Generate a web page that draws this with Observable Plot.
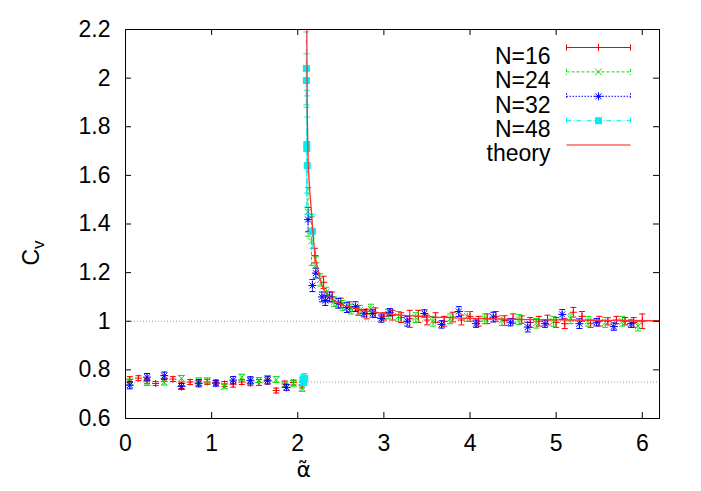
<!DOCTYPE html>
<html><head><meta charset="utf-8">
<script src="https://cdn.jsdelivr.net/npm/d3@7"></script>
<script src="https://cdn.jsdelivr.net/npm/@observablehq/plot@0.6"></script>
<style>body{margin:0;background:#fff}#chart svg{display:block}</style>
</head><body><div id="chart"></div>
<script>
const xTicks = [0, 1, 2, 3, 4, 5, 6];
const yTicks = [0.6, 0.8, 1.0, 1.2, 1.4, 1.6, 1.8, 2.0, 2.2];
const refLines = [0.75, 1.0];
const seriesNames = ["N=16", "N=24", "N=32", "N=48", "theory"];
const seriesColors = ["#ff0000", "#00dd00", "#0000ff", "#00eeee", "#ff3030"];

// N=16
const a16 = [0.05,0.15,0.25,0.35,0.45,0.55,0.65,0.75,0.85,0.95,1.05,1.15,1.25,1.35,1.45,1.55,1.65,1.75,1.85,1.95,2.05,
  2.2,2.3,2.4,2.5,2.6,2.7,2.8,2.9,3.0,3.1,3.2,3.3,3.4,3.5,3.6,3.7,3.8,3.9,4.0,4.1,4.2,4.3,4.4,4.5,4.6,4.7,4.8,4.9,5.0,5.1,5.2,5.3,5.4,5.5,5.6,5.7,5.8,5.9,6.0];
const v16 = [0.760,0.766,0.755,0.744,0.765,0.762,0.735,0.750,0.745,0.750,0.748,0.742,0.741,0.750,0.745,0.748,0.752,0.715,0.742,0.748,0.738,
  1.27,1.16,1.10,1.075,1.06,1.045,1.03,1.035,1.02,1.025,1.015,1.01,1.02,1.005,1.015,1.0,1.017,1.005,1.02,1.0,1.01,1.02,1.003,1.01,1.007,0.995,1.0,1.005,0.995,0.99,1.037,1.02,0.99,1.0,1.0,1.005,1.0,0.995,1.0];
const e16 = [0.012,0.01,0.01,0.008,0.012,0.01,0.012,0.01,0.01,0.01,0.01,0.01,0.012,0.01,0.01,0.012,0.01,0.01,0.012,0.01,0.012,
  0.03,0.025,0.02,0.02,0.02,0.02,0.02,0.02,0.015,0.02,0.02,0.035,0.025,0.02,0.02,0.02,0.02,0.02,0.02,0.02,0.02,0.02,0.02,0.02,0.015,0.02,0.02,0.02,0.02,0.02,0.02,0.02,0.015,0.02,0.015,0.015,0.015,0.02,0.03];

// N=24
const a24 = [0.05,0.25,0.45,0.65,0.85,0.95,1.15,1.35,1.45,1.55,1.65,1.75,1.85,1.95,2.05,
  2.12,2.16,2.21,2.26,2.33,2.42,2.52,2.62,2.72,2.85,3.05,3.17,3.37,3.57,3.77,3.97,4.17,4.37,4.57,4.77,4.97,5.17,5.37,5.57,5.77,5.95];
const v24 = [0.750,0.748,0.750,0.765,0.755,0.755,0.732,0.770,0.755,0.758,0.765,0.760,0.740,0.745,0.724,
  1.45,1.33,1.23,1.17,1.12,1.08,1.065,1.05,1.045,1.05,1.03,1.02,1.015,1.0,1.01,1.02,1.01,1.003,1.007,0.992,1.0,1.01,1.0,0.995,1.0,0.98];
const e24 = [0.012,0.012,0.012,0.012,0.012,0.012,0.01,0.012,0.012,0.01,0.012,0.012,0.012,0.012,0.012,
  0.1,0.1,0.035,0.025,0.02,0.02,0.02,0.02,0.02,0.02,0.02,0.02,0.02,0.02,0.02,0.02,0.02,0.02,0.02,0.02,0.02,0.02,0.02,0.02,0.02,0.02];

// N=32
const a32 = [0.05,0.25,0.45,0.65,0.85,1.05,1.25,1.45,1.65,1.87,
  2.12,2.17,2.21,2.28,2.32,2.37,2.47,2.57,2.67,2.77,2.87,2.97,3.07,3.27,3.47,3.67,3.87,4.07,4.27,4.47,4.67,4.87,5.07,5.27,5.47,5.67,5.87];
const v32 = [0.737,0.770,0.776,0.732,0.745,0.745,0.758,0.757,0.757,0.728,
  1.418,1.147,1.198,1.10,1.085,1.10,1.074,1.056,1.06,1.033,1.032,1.011,1.037,1.0,1.032,0.987,1.04,0.99,1.017,0.996,0.976,0.99,1.028,0.99,0.996,0.978,0.99];
const e32 = [0.015,0.015,0.015,0.012,0.015,0.012,0.015,0.015,0.015,0.012,
  0.05,0.025,0.02,0.02,0.02,0.02,0.02,0.02,0.02,0.015,0.015,0.015,0.015,0.02,0.015,0.015,0.02,0.015,0.02,0.015,0.02,0.015,0.02,0.02,0.015,0.015,0.015];

// N=48
const a48 = [2.06,2.07,2.08,2.1,2.1,2.105,2.105,2.11,2.17];
const v48 = [0.760,0.750,0.765,2.04,1.99,1.727,1.71,1.64,1.37];
const e48 = [0.02,0.015,0.02,0.15,0.11,0.2,0.24,0.2,0.07];

// theory
const thA = [2.105,2.11,2.12,2.135,2.15,2.165,2.195,2.235,2.29,2.37,2.49,2.64,2.9,3.2,3.6,4.0,4.5,5.0,5.5,6.2];
const thV = [2.2,1.90,1.68,1.56,1.49,1.42,1.29,1.21,1.14,1.10,1.072,1.055,1.037,1.025,1.017,1.012,1.008,1.006,1.004,1.002];

const W = 701, H = 491, mL = 125, mR = 42, mT = 29, mB = 73;
const fW = W - mL - mR, fH = H - mT - mB;
const FS = 23;

const mk = (a, v, e) => a.map((x, i) => ({x, y: v[i], lo: v[i] - e[i], hi: v[i] + e[i]}));
const theory = thA.map((x, i) => ({x, y: thV[i]}));

const sym = fn => ({draw(c) { fn(c); }});
const capSym = sym(c => { c.moveTo(-3, 0); c.lineTo(3, 0); });
const plusSym = sym(c => { c.moveTo(-3.5, 0); c.lineTo(3.5, 0); c.moveTo(0, -3.5); c.lineTo(0, 3.5); });
const timesSym = sym(c => { c.moveTo(-3.2, -3.2); c.lineTo(3.2, 3.2); c.moveTo(-3.2, 3.2); c.lineTo(3.2, -3.2); });
const starSym = sym(c => { c.moveTo(-4, 0); c.lineTo(4, 0); c.moveTo(0, -4); c.lineTo(0, 4); c.moveTo(-3, -3); c.lineTo(3, 3); c.moveTo(-3, 3); c.lineTo(3, -3); });
const squareSym = sym(c => { c.rect(-3.5, -3.5, 7, 7); });
const sampleSym = sym(c => { c.moveTo(-32, 0); c.lineTo(32, 0); c.moveTo(-32, -3); c.lineTo(-32, 3); c.moveTo(32, -3); c.lineTo(32, 3); });
const sampleLineSym = sym(c => { c.moveTo(-32, 0); c.lineTo(32, 0); });

const series = [
  {data: mk(a16, v16, e16), color: seriesColors[0], dash: null, marker: plusSym, filled: false},
  {data: mk(a24, v24, e24), color: seriesColors[1], dash: "3,2", marker: timesSym, filled: false},
  {data: mk(a32, v32, e32), color: seriesColors[2], dash: "1.5,1.5", marker: starSym, filled: false},
  {data: mk(a48, v48, e48), color: seriesColors[3], dash: "5,2,1,2", marker: squareSym, filled: true}
];

const marks = [
  Plot.ruleY(refLines, {y: d => d, stroke: "#999", strokeDasharray: "1,2", strokeWidth: 1})
];
for (const s of series) {
  marks.push(Plot.ruleX(s.data, {x: "x", y1: "lo", y2: "hi", stroke: s.color, strokeDasharray: s.dash, strokeWidth: 1, clip: true}));
  marks.push(Plot.dot(s.data, {x: "x", y: "lo", symbol: capSym, stroke: s.color, fill: "none", strokeWidth: 1, clip: true}));
  marks.push(Plot.dot(s.data, {x: "x", y: "hi", symbol: capSym, stroke: s.color, fill: "none", strokeWidth: 1, clip: true}));
  marks.push(Plot.dot(s.data, {x: "x", y: "y", symbol: s.marker, stroke: s.filled ? "none" : s.color, fill: s.filled ? s.color : "none", strokeWidth: 1, clip: true}));
}
marks.push(Plot.line(theory, {x: "x", y: "y", stroke: seriesColors[4], strokeWidth: 1.3, curve: "monotone-x", clip: true}));

// legend
seriesNames.forEach((name, i) => {
  const dy = 18 + i * 24.4;
  marks.push(Plot.text([name], {text: d => d, frameAnchor: "top-right", dx: -109, dy, textAnchor: "end", fontSize: FS, fill: "black"}));
  if (i < 4) {
    const s = series[i];
    marks.push(Plot.dot([name], {frameAnchor: "top-right", dx: -61, dy, symbol: sampleSym, stroke: s.color, fill: "none", strokeDasharray: s.dash, strokeWidth: 1}));
    marks.push(Plot.dot([name], {frameAnchor: "top-right", dx: -61, dy, symbol: s.marker, stroke: s.filled ? "none" : s.color, fill: s.filled ? s.color : "none", strokeWidth: 1}));
  } else {
    marks.push(Plot.dot([name], {frameAnchor: "top-right", dx: -61, dy, symbol: sampleLineSym, stroke: "#ff8c8c", fill: "none", strokeWidth: 2}));
  }
});

// inward ticks on all four sides
marks.push(Plot.tickX(xTicks, {x: d => d, insetTop: fH - 6, stroke: "black"}));
marks.push(Plot.tickX(xTicks, {x: d => d, insetBottom: fH - 6, stroke: "black"}));
marks.push(Plot.tickY(yTicks, {y: d => d, insetRight: fW - 6, stroke: "black"}));
marks.push(Plot.tickY(yTicks, {y: d => d, insetLeft: fW - 6, stroke: "black"}));
marks.push(Plot.frame({stroke: "black", strokeWidth: 1}));

const fmt = d => String(+d.toFixed(1));
marks.push(Plot.axisX(xTicks, {tickSize: 0, tickPadding: 16, tickFormat: fmt, fontSize: FS, label: null}));
marks.push(Plot.axisY(yTicks, {tickSize: 0, tickPadding: 15, tickFormat: fmt, fontSize: FS, label: null}));

// axis titles
marks.push(Plot.text(["α\u0303"], {text: d => d, frameAnchor: "bottom-left", dx: 171, dy: 58, fontSize: 22, fontFamily: "DejaVu Sans", fill: "black"}));
marks.push(Plot.text(["Cv"], {text: d => d, frameAnchor: "top-left", dx: -103, dy: 236, rotate: -90, fontSize: FS, fill: "black"}));

const svg = Plot.plot({
  width: W, height: H,
  marginLeft: mL, marginRight: mR, marginTop: mT, marginBottom: mB,
  style: {fontFamily: "'Liberation Sans', Arial, sans-serif", fontSize: FS + "px", background: "white", color: "black"},
  x: {domain: [0, 6.2], axis: null},
  y: {domain: [0.6, 2.2], axis: null},
  marks
});

const texts = d3.select(svg).selectAll("text");
texts.filter(function() { return this.textContent === "Cv"; }).each(function() {
  const t = d3.select(this);
  t.text("C");
  t.append("tspan").attr("dy", "0.3em").attr("font-size", "17px").text("v");
});

document.getElementById("chart").appendChild(svg);
</script>
</body></html>
